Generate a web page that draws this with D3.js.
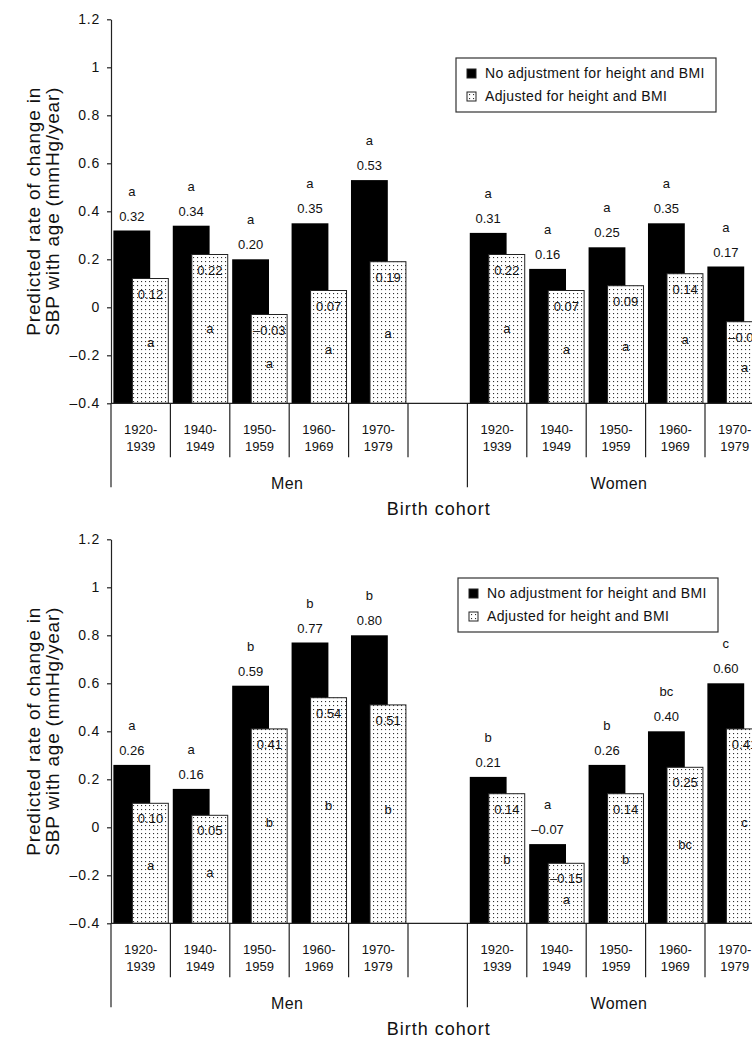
<!DOCTYPE html>
<html lang="en">
<head>
<meta charset="utf-8">
<title>Predicted rate of change in SBP by birth cohort</title>
<script src="https://cdn.jsdelivr.net/npm/d3@7"></script>
<style>
  body { margin: 0; background: #fff; }
  svg text { font-family: "Liberation Sans", Arial, sans-serif; fill: #111; }
</style>
</head>
<body>
<script>
// categories
var cohorts = ["1920-1939", "1940-1949", "1950-1959", "1960-1969", "1970-1979"];
var groups = ["Men", "Women"];
var seriesNames = ["No adjustment for height and BMI", "Adjusted for height and BMI"];
var yTicks = [1.2, 1, 0.8, 0.6, 0.4, 0.2, 0, -0.2, -0.4];

// top panel values
var topUnadjMen = [0.32, 0.34, 0.20, 0.35, 0.53];
var topAdjMen = [0.12, 0.22, -0.03, 0.07, 0.19];
var topUnadjWomen = [0.31, 0.16, 0.25, 0.35, 0.17];
var topAdjWomen = [0.22, 0.07, 0.09, 0.14, -0.06];
var topLetUnadjMen = ["a", "a", "a", "a", "a"];
var topLetAdjMen = ["a", "a", "a", "a", "a"];
var topLetUnadjWomen = ["a", "a", "a", "a", "a"];
var topLetAdjWomen = ["a", "a", "a", "a", "a"];

// bottom panel values
var botUnadjMen = [0.26, 0.16, 0.59, 0.77, 0.80];
var botAdjMen = [0.10, 0.05, 0.41, 0.54, 0.51];
var botUnadjWomen = [0.21, -0.07, 0.26, 0.40, 0.60];
var botAdjWomen = [0.14, -0.15, 0.14, 0.25, 0.41];
var botLetUnadjMen = ["a", "a", "b", "b", "b"];
var botLetAdjMen = ["a", "a", "b", "b", "b"];
var botLetUnadjWomen = ["b", "a", "b", "bc", "c"];
var botLetAdjWomen = ["b", "a", "b", "bc", "c"];

var W = 752, H = 1041;
var svg = d3.select("body").append("svg").attr("width", W).attr("height", H);

// dotted fill
var defs = svg.append("defs");
var pat = defs.append("pattern").attr("id", "dots")
  .attr("patternUnits", "userSpaceOnUse").attr("width", 4).attr("height", 4);
pat.append("rect").attr("width", 4).attr("height", 4).attr("fill", "#fff");
pat.append("rect").attr("x", 1).attr("y", 1).attr("width", 1.1).attr("height", 1.1).attr("fill", "#333");

// one slot per cohort, plus an empty slot between men and women
var slots = cohorts.map(function (c) { return "Men " + c; })
  .concat(["gap"], cohorts.map(function (c) { return "Women " + c; }));
var x = d3.scaleBand().domain(slots).range([111, 764.4]).padding(0);
var bw = x.bandwidth();

function fmt(v) {
  return (v < 0 ? "\u2013" : "") + Math.abs(v).toFixed(2);
}

function buildRows(unadjM, adjM, unadjW, adjW, lUM, lAM, lUW, lAW) {
  var rows = [];
  cohorts.forEach(function (c, i) {
    rows.push({ slot: "Men " + c, cohort: c, unadj: unadjM[i], adj: adjM[i], lu: lUM[i], la: lAM[i] });
  });
  cohorts.forEach(function (c, i) {
    rows.push({ slot: "Women " + c, cohort: c, unadj: unadjW[i], adj: adjW[i], lu: lUW[i], la: lAW[i] });
  });
  return rows;
}

var panels = [
  { top: 0, legendX: 456, rows: buildRows(topUnadjMen, topAdjMen, topUnadjWomen, topAdjWomen,
      topLetUnadjMen, topLetAdjMen, topLetUnadjWomen, topLetAdjWomen) },
  { top: 520, legendX: 458, rows: buildRows(botUnadjMen, botAdjMen, botUnadjWomen, botAdjWomen,
      botLetUnadjMen, botLetAdjMen, botLetUnadjWomen, botLetAdjWomen) }
];

panels.forEach(function (p) {
  var g = svg.append("g").attr("transform", "translate(0," + p.top + ")");
  var y = d3.scaleLinear().domain([-0.4, 1.2]).range([403.3, 19.3]);
  var base = y(-0.4);

  // y axis
  var ax = g.append("g").attr("transform", "translate(111,0)")
    .call(d3.axisLeft(y).tickValues(yTicks).tickSize(4).tickSizeOuter(0).tickPadding(7)
      .tickFormat(function (d) { return d < 0 ? "\u2013" + Math.abs(d) : String(d); }));
  ax.attr("font-family", null).attr("font-size", null);
  ax.selectAll("path, line").attr("stroke", "#222").attr("stroke-width", 1.2);
  ax.selectAll("text").attr("font-size", 14).attr("letter-spacing", 0.8).attr("fill", "#111");

  // y title
  var ymid = (y(1.2) + y(-0.4)) / 2;
  g.append("text").attr("transform", "translate(40," + ymid + ") rotate(-90)")
    .attr("text-anchor", "middle").attr("font-size", 19).attr("letter-spacing", 0.8)
    .text("Predicted rate of change in");
  g.append("text").attr("transform", "translate(59," + ymid + ") rotate(-90)")
    .attr("text-anchor", "middle").attr("font-size", 19).attr("letter-spacing", 0.8)
    .text("SBP with age (mmHg/year)");

  // bars
  var cat = g.selectAll("g.cat").data(p.rows).enter().append("g").attr("class", "cat");
  cat.append("rect")
    .attr("x", function (d) { return x(d.slot) + bw * 0.04; })
    .attr("width", bw * 0.62)
    .attr("y", function (d) { return y(d.unadj); })
    .attr("height", function (d) { return base - y(d.unadj); })
    .attr("fill", "#000");
  cat.append("rect")
    .attr("x", function (d) { return x(d.slot) + bw * 0.36; })
    .attr("width", bw * 0.605)
    .attr("y", function (d) { return y(d.adj); })
    .attr("height", function (d) { return base - y(d.adj); })
    .attr("fill", "url(#dots)").attr("stroke", "#222").attr("stroke-width", 1);

  // labels on unadjusted bars
  cat.append("text").attr("text-anchor", "middle").attr("font-size", 13)
    .attr("x", function (d) { return x(d.slot) + bw * 0.35; })
    .attr("y", function (d) { return y(d.unadj) - 10; })
    .text(function (d) { return fmt(d.unadj); });
  cat.append("text").attr("text-anchor", "middle").attr("font-size", 13)
    .attr("x", function (d) { return x(d.slot) + bw * 0.35; })
    .attr("y", function (d) { return y(d.unadj) - 35; })
    .text(function (d) { return d.lu; });

  // labels inside adjusted bars
  cat.append("text").attr("text-anchor", "middle").attr("font-size", 13)
    .attr("x", function (d) { return x(d.slot) + bw * 0.665; })
    .attr("y", function (d) { return y(d.adj) + 20; })
    .text(function (d) { return fmt(d.adj); });
  cat.append("text").attr("text-anchor", "middle").attr("font-size", 13)
    .attr("x", function (d) { return x(d.slot) + bw * 0.665; })
    .attr("y", function (d) { var t = y(d.adj); return t + 0.43 * (base - t) + 15; })
    .text(function (d) { return d.la; });

  // x axis line
  g.append("line").attr("x1", 111).attr("x2", W).attr("y1", base).attr("y2", base)
    .attr("stroke", "#222").attr("stroke-width", 1.2);

  // category separators
  var seps = [];
  p.rows.forEach(function (d) {
    var first = d.slot === "Men " + cohorts[0] || d.slot === "Women " + cohorts[0];
    seps.push({ x: x(d.slot), len: first ? 84 : 54 });
  });
  seps.push({ x: x("Men " + cohorts[4]) + bw, len: 54 });
  seps.push({ x: x("Women " + cohorts[4]) + bw, len: 54 });
  g.selectAll("line.sep").data(seps).enter().append("line").attr("class", "sep")
    .attr("x1", function (d) { return d.x; }).attr("x2", function (d) { return d.x; })
    .attr("y1", base).attr("y2", function (d) { return base + d.len; })
    .attr("stroke", "#222").attr("stroke-width", 1.2);

  // cohort labels
  var cl = g.selectAll("text.coh").data(p.rows).enter().append("text").attr("class", "coh")
    .attr("text-anchor", "middle").attr("font-size", 13)
    .attr("transform", function (d) { return "translate(" + (x(d.slot) + bw / 2) + "," + base + ")"; });
  cl.append("tspan").attr("x", 0).attr("y", 31).text(function (d) { return d.cohort.split("-")[0] + "-"; });
  cl.append("tspan").attr("x", 0).attr("y", 47.5).text(function (d) { return d.cohort.split("-")[1]; });

  // group labels
  var menMid = (x("Men " + cohorts[0]) + x("gap") + bw) / 2 - 2;
  var womenMid = (x("Women " + cohorts[0]) + x("Women " + cohorts[4]) + bw) / 2 + 3;
  g.selectAll("text.grp").data([{ t: groups[0], x: menMid }, { t: groups[1], x: womenMid }])
    .enter().append("text").attr("class", "grp")
    .attr("text-anchor", "middle").attr("font-size", 16).attr("letter-spacing", 0.4)
    .attr("x", function (d) { return d.x; }).attr("y", base + 86)
    .text(function (d) { return d.t; });

  g.append("text").attr("text-anchor", "middle").attr("font-size", 18).attr("letter-spacing", 1)
    .attr("x", (x.range()[0] + x.range()[1]) / 2 + 1).attr("y", base + 112)
    .text("Birth cohort");

  // legend
  var lg = g.append("g").attr("transform", "translate(" + p.legendX + ",58)");
  lg.append("rect").attr("width", 260).attr("height", 54)
    .attr("fill", "#fff").attr("stroke", "#333").attr("stroke-width", 1.2);
  var items = lg.selectAll("g.item").data(seriesNames).enter().append("g").attr("class", "item")
    .attr("transform", function (d, i) { return "translate(0," + (20 + i * 23) + ")"; });
  items.append("rect").attr("x", 11).attr("y", -9).attr("width", 9).attr("height", 9)
    .attr("fill", function (d, i) { return i === 0 ? "#000" : "url(#dots)"; })
    .attr("stroke", "#222").attr("stroke-width", 1);
  items.append("text").attr("x", 29).attr("y", 0).attr("font-size", 14).attr("letter-spacing", 0.35)
    .text(function (d) { return d; });
});
</script>
</body>
</html>
